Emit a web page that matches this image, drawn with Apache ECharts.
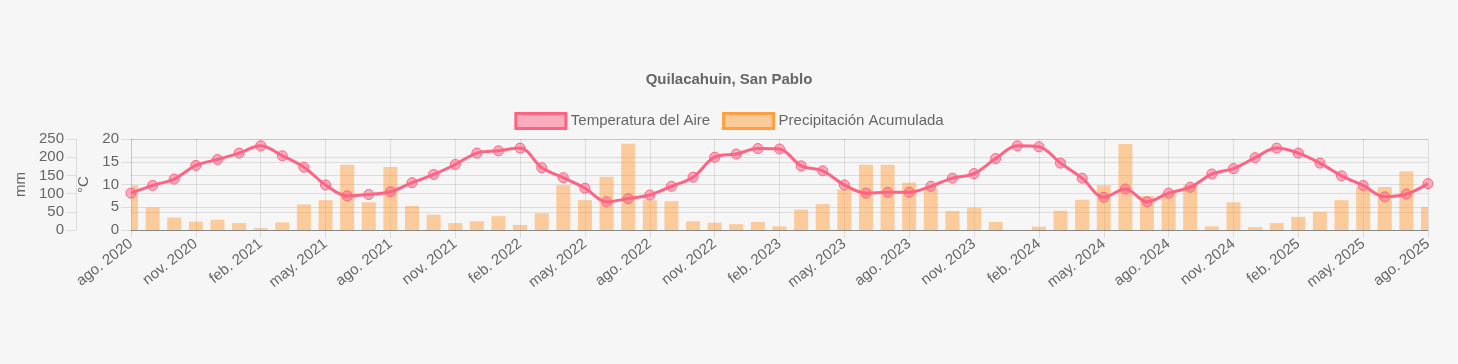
<!DOCTYPE html>
<html>
<head>
<meta charset="utf-8">
<script src="https://cdn.jsdelivr.net/npm/echarts@6/dist/echarts.min.js"></script>
<style>
html,body{margin:0;padding:0;background:#f6f6f6;}
#chart{width:1458px;height:364px;}
</style>
</head>
<body>
<div id="chart"></div>
<script>
const months = [
 'ago. 2020','sept. 2020','oct. 2020','nov. 2020','dic. 2020',
 'ene. 2021','feb. 2021','mar. 2021','abr. 2021','may. 2021','jun. 2021','jul. 2021','ago. 2021','sept. 2021','oct. 2021','nov. 2021','dic. 2021',
 'ene. 2022','feb. 2022','mar. 2022','abr. 2022','may. 2022','jun. 2022','jul. 2022','ago. 2022','sept. 2022','oct. 2022','nov. 2022','dic. 2022',
 'ene. 2023','feb. 2023','mar. 2023','abr. 2023','may. 2023','jun. 2023','jul. 2023','ago. 2023','sept. 2023','oct. 2023','nov. 2023','dic. 2023',
 'ene. 2024','feb. 2024','mar. 2024','abr. 2024','may. 2024','jun. 2024','jul. 2024','ago. 2024','sept. 2024','oct. 2024','nov. 2024','dic. 2024',
 'ene. 2025','feb. 2025','mar. 2025','abr. 2025','may. 2025','jun. 2025','jul. 2025','ago. 2025'
];
const temperatura = [
 8.1, 9.8, 11.2, 14.2, 15.5,
 16.9, 18.5, 16.3, 13.8, 9.9, 7.5, 7.8, 8.4, 10.4, 12.2, 14.4, 16.9,
 17.4, 18.0, 13.7, 11.5, 9.2, 6.2, 6.9, 7.7, 9.6, 11.6, 16.0, 16.7,
 17.9, 17.8, 14.1, 13.0, 9.9, 8.1, 8.3, 8.3, 9.6, 11.4, 12.4, 15.7,
 18.5, 18.3, 14.7, 11.4, 7.2, 9.0, 6.2, 8.1, 9.4, 12.3, 13.5, 15.9,
 18.0, 16.9, 14.7, 11.9, 9.8, 7.3, 7.9, 10.2
];
const precipitacion = [
 123, 62, 34, 23, 28,
 19, 5, 21, 70, 82, 179, 76, 173, 66, 42, 19, 24,
 38, 14, 46, 123, 82, 146, 237, 82, 79, 24, 20, 16,
 22, 10, 56, 71, 111, 179, 179, 130, 114, 52, 61, 22,
 0, 9, 53, 83, 123, 236, 93, 102, 123, 10, 76, 8,
 19, 36, 50, 82, 117, 118, 161, 63
];
const mmTicks = {min: 0, max: 250, interval: 50};
const cTicks = {min: 0, max: 20, interval: 5};

const pink = 'rgb(255,99,132)';
const pinkA = 'rgba(255,99,132,0.5)';
const orange = 'rgb(255,159,64)';
const orangeA = 'rgba(255,159,64,0.5)';
const txt = '#666';
const font = 'Liberation Sans, Arial, Helvetica, sans-serif';
const fs = 15;
const gridCol = 'rgba(0,0,0,0.1)';

const chart = echarts.init(document.getElementById('chart'), null, {renderer: 'canvas'});

function renderBar(params, api) {
  const idx = api.value(0);
  const val = api.value(1);
  const base = api.coord([idx, 0]);
  const top = api.coord([idx, val]);
  const w = 14;
  const cs = params.coordSys;
  const rect = echarts.graphic.clipRectByRect(
    {x: base[0] - w / 2, y: top[1], width: w, height: base[1] - top[1]},
    {x: cs.x, y: cs.y, width: cs.width, height: cs.height}
  );
  if (!rect) return;
  return {type: 'rect', shape: rect, style: {fill: orangeA}};
}

chart.setOption({
  backgroundColor: '#f6f6f6',
  animation: false,
  textStyle: {fontFamily: font},
  title: {
    text: 'Quilacahuin, San Pablo',
    left: 'center', top: 67,
    textStyle: {fontSize: fs, fontWeight: 'bold', color: txt, fontFamily: font}
  },
  legend: {
    top: 107, left: 'center',
    icon: 'rect', itemWidth: 50, itemHeight: 15, itemGap: 12,
    textStyle: {fontSize: fs, color: txt, fontFamily: font},
    data: [
      {name: 'Temperatura del Aire', itemStyle: {color: pinkA, borderColor: pink, borderWidth: 3}},
      {name: 'Precipitación Acumulada', itemStyle: {color: orangeA, borderColor: orange, borderWidth: 3}}
    ]
  },
  grid: {left: 131, right: 30, top: 139, bottom: 134, containLabel: false},
  xAxis: {
    type: 'category',
    data: months,
    boundaryGap: false,
    axisLine: {show: true, lineStyle: {color: '#888', width: 1}},
    axisTick: {show: true, interval: 2, length: 8, lineStyle: {color: gridCol}},
    axisLabel: {interval: 2, rotate: 38, margin: 12, fontSize: fs, color: txt, fontFamily: font},
    splitLine: {show: true, interval: 2, lineStyle: {color: gridCol}}
  },
  yAxis: [
    {
      type: 'value', position: 'left', offset: 55,
      min: mmTicks.min, max: mmTicks.max, interval: mmTicks.interval,
      name: 'mm', nameLocation: 'middle', nameRotate: 90, nameGap: 46,
      nameTextStyle: {fontSize: fs, color: txt, fontFamily: font},
      axisLine: {show: true, lineStyle: {color: gridCol}},
      axisTick: {show: true, length: 10, lineStyle: {color: gridCol}},
      axisLabel: {fontSize: fs, color: txt, margin: 12, fontFamily: font},
      splitLine: {show: true, lineStyle: {color: gridCol}}
    },
    {
      type: 'value', position: 'left', offset: 0,
      min: cTicks.min, max: cTicks.max, interval: cTicks.interval,
      name: '°C', nameLocation: 'middle', nameRotate: 90, nameGap: 39,
      nameTextStyle: {fontSize: fs, color: txt, fontFamily: font},
      axisLine: {show: true, lineStyle: {color: gridCol}},
      axisTick: {show: true, length: 10, lineStyle: {color: gridCol}},
      axisLabel: {fontSize: fs, color: txt, margin: 12, fontFamily: font},
      splitLine: {show: true, lineStyle: {color: gridCol}}
    }
  ],
  series: [
    {
      name: 'Temperatura del Aire',
      type: 'line',
      yAxisIndex: 1,
      data: temperatura,
      smooth: 0.35,
      clip: false,
      z: 5,
      symbol: 'circle', symbolSize: 10,
      lineStyle: {color: pink, width: 3},
      itemStyle: {color: pinkA, borderColor: pink, borderWidth: 1}
    },
    {
      name: 'Precipitación Acumulada',
      type: 'custom',
      yAxisIndex: 0,
      data: precipitacion.map((v, i) => [i, v]),
      encode: {x: 0, y: 1},
      renderItem: renderBar,
      clip: true,
      z: 2,
      itemStyle: {color: orangeA}
    }
  ]
});
</script>
</body>
</html>
